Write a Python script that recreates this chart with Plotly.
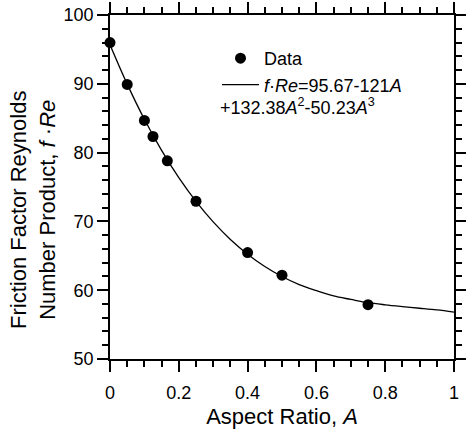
import plotly.graph_objects as go

# Data points
aspect = [0.0, 0.05, 0.10, 0.125, 1/6, 0.25, 0.40, 0.50, 0.75]
fre = [96.00, 89.91, 84.68, 82.34, 78.81, 72.93, 65.47, 62.19, 57.89]

# Fit curve
fit_a = [0.0, 0.05, 0.10, 0.15, 0.20, 0.25, 0.30, 0.35, 0.40, 0.45, 0.50,
         0.55, 0.60, 0.65, 0.70, 0.75, 0.80, 0.85, 0.90, 0.95, 1.0]
fit_v = [95.67, 89.95, 84.84, 80.33, 76.36, 72.91, 69.93, 67.38, 65.24, 63.45, 61.99,
         60.81, 59.93, 59.16, 58.66, 58.19, 57.88, 57.62, 57.38, 57.13, 56.82]

x_ticks = [0, 0.2, 0.4, 0.6, 0.8, 1]
x_labels = ["0", "0.2", "0.4", "0.6", "0.8", "1"]
y_ticks = [50, 60, 70, 80, 90, 100]

FONT = "Liberation Sans, Arial, sans-serif"

fig = go.Figure()
fig.add_trace(go.Scatter(
    x=aspect, y=fre, mode="markers", name="Data",
    marker=dict(color="black", size=11, symbol="circle"),
    cliponaxis=False,
))
fig.add_trace(go.Scatter(
    x=fit_a, y=fit_v, mode="lines", line_shape="spline",
    name="<i>f</i>·<i>Re</i>=95.67-121<i>A</i>",
    line=dict(color="black", width=1.3),
))

axis_common = dict(
    showline=True, linecolor="black", linewidth=1.5, mirror="allticks",
    ticks="outside", ticklen=11, tickwidth=1.5, tickcolor="black",
    showgrid=False, zeroline=False, automargin=False,
    tickfont=dict(family=FONT, size=18, color="black"),
)

fig.update_xaxes(
    range=[0, 1], tickvals=x_ticks, ticktext=x_labels, ticklabelstandoff=6,
    minor=dict(dtick=0.05, ticks="outside", ticklen=6, tickwidth=1.5, tickcolor="black", showgrid=False),
    title=dict(text="Aspect Ratio, <i>A</i>", font=dict(family=FONT, size=22, color="black"), standoff=6),
    **axis_common,
)
fig.update_yaxes(
    range=[50, 100], tickvals=y_ticks,
    minor=dict(dtick=2, ticks="outside", ticklen=6, tickwidth=1.5, tickcolor="black", showgrid=False),
    **axis_common,
)

fig.add_annotation(
    text="Friction Factor Reynolds<br>Number Product, <i>f</i> ·<i>Re</i>",
    xref="paper", yref="paper", x=(33 - 110) / 344, y=(359 - 210) / 344,
    xanchor="center", yanchor="middle",
    textangle=-90, showarrow=False, font=dict(family=FONT, size=22, color="black"),
)
fig.add_annotation(
    text="+132.38<i>A</i><sup>2</sup>-50.23<i>A</i><sup>3</sup>",
    xref="paper", yref="paper", x=(218 - 110) / 344, y=(359 - 106) / 344,
    xanchor="left", yanchor="middle", showarrow=False,
    font=dict(family=FONT, size=18, color="black"),
)

fig.update_layout(
    width=466, height=431,
    margin=dict(l=110, r=12, t=15, b=72),
    paper_bgcolor="white", plot_bgcolor="white",
    font=dict(family=FONT, color="black"),
    showlegend=True,
    legend=dict(x=(217 - 110) / 344, y=(359 - 40) / 344, xanchor="left", yanchor="top",
                bgcolor="rgba(0,0,0,0)", borderwidth=0, itemwidth=37,
                font=dict(family=FONT, size=18, color="black"),
                tracegroupgap=0),
)

fig.write_html("out.html")
